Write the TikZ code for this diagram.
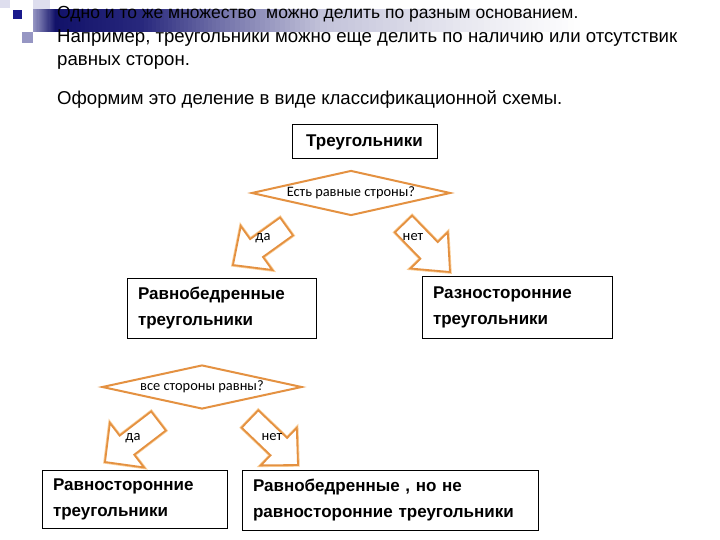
\documentclass[tikz,border=0pt]{standalone}
\usepackage{fontspec}
\setmainfont{Liberation Sans}
\newfontfamily\calib{Carlito}
\usetikzlibrary{calc,shapes.geometric}
\definecolor{arrorange}{RGB}{228,145,65}
\definecolor{arrglow}{RGB}{250,205,150}
\definecolor{lavlight}{RGB}{222,222,238}
\definecolor{lavmid}{RGB}{150,150,195}
\definecolor{navydark}{RGB}{25,25,140}
\definecolor{barA}{RGB}{18,18,105}
\definecolor{barB}{RGB}{40,40,125}
\definecolor{barC}{RGB}{115,115,170}
\definecolor{barD}{RGB}{195,195,218}
\definecolor{barE}{RGB}{232,232,240}
\tikzset{
  toptext/.style={anchor=base west, inner sep=0pt, font=\fontsize{18.6}{21}\selectfont},
  catbox/.style={draw=black, line width=1pt, fill=white, inner xsep=11pt, inner ysep=0pt,
    align=left, font=\bfseries\fontsize{17}{26}\selectfont},
  question/.style={diamond, draw=arrorange, line width=2pt, fill=white, aspect=4.6,
    inner sep=0.5pt, font=\calib\fontsize{14.4}{15}\selectfont},
  answer/.style={inner sep=0pt, font=\calib\fontsize{14.5}{15}\selectfont},
  blockarrow/.style={draw=arrorange, line width=1.8pt, fill=white, line join=miter,
    preaction={draw=arrglow, line width=3.4pt}}
}
\newcommand{\blockarr}[5]{% tail, tip, shaft half, head half, head fraction
  \draw[blockarrow]
    ($(#1)!#3!90:(#2)$) -- ($(#1)!#5!(#2)!#3!90:(#2)$) -- ($(#1)!#5!(#2)!#4!90:(#2)$)
    -- (#2) -- ($(#1)!#5!(#2)!#4!-90:(#2)$) -- ($(#1)!#5!(#2)!#3!-90:(#2)$)
    -- ($(#1)!#3!-90:(#2)$) -- cycle;}
\begin{document}
\begin{tikzpicture}[x=1pt,y=-1pt]
\useasboundingbox (0,0) rectangle (720,540);
\fill[white] (0,0) rectangle (720,540);
% decoration
\fill[lavlight] (0,0) rectangle (10,8);
\fill[lavlight] (33,0) rectangle (50,9);
\foreach \xa/\xb/\ca/\cb in {33/55/lavmid/barA, 55/140/barA/barB, 140/220/barB/barC,
    220/320/barC/barD, 320/460/barD/barE, 460/580/barE/white} {
  \foreach \k in {0,...,19} {
    \pgfmathsetmacro\xs{\xa+(\xb-\xa)*\k/20}
    \pgfmathsetmacro\xe{\xa+(\xb-\xa)*(\k+1)/20+0.4}
    \pgfmathtruncatemacro\pc{100-\k*5}
    \fill[\ca!\pc!\cb] (\xs,9) rectangle (\xe,32);
  }
}
\fill[lavmid] (22,32) rectangle (33,43);
\fill[navydark] (13,10) rectangle (22,19);
% top text
\node[toptext, font=\fontsize{17.5}{21}\selectfont] (l1) at (57,19) {Одно и то же множество\ \ можно делить по разным основанием.};
\node[toptext] (l2) at (57,43) {Например, треугольники можно еще делить по наличию или отсутствик};
\node[toptext] (l3) at (57,66) {равных сторон.};
\node[toptext] (l4) at (57,105) {Оформим это деление в виде классификационной схемы.};
% boxes
\node[catbox, align=center, minimum width=145pt, minimum height=34pt] (tri) at (364.5,142) {Треугольники};
\node[question, minimum width=199pt, minimum height=45pt] (q1) at (351,193) {Есть равные строны?};
\coordinate (a1s) at (286.5,226.5); \coordinate (a1e) at (233,265);
\coordinate (a2s) at (403.5,224);   \coordinate (a2e) at (450,272);
\blockarr{a1s}{a1e}{11pt}{27pt}{0.56}
\blockarr{a2s}{a2e}{12pt}{26pt}{0.55}
\node[answer] (da1) at (263,238) {да};
\node[answer] (net1) at (413,237) {нет};
\node[catbox, text width=167pt, minimum height=60pt] (iso) at (221.5,308) {Равнобедренные\\треугольники};
\node[catbox, text width=168pt, minimum height=62pt] (sca) at (517,307) {Разносторонние\\треугольники};
\node[question, minimum width=200pt, minimum height=44pt] (q2) at (202,387) {все стороны равны?};
\coordinate (a3s) at (158.5,421); \coordinate (a3e) at (105,462);
\coordinate (a4s) at (250,419);   \coordinate (a4e) at (298,465);
\blockarr{a3s}{a3e}{12pt}{28pt}{0.59}
\blockarr{a4s}{a4e}{12pt}{26pt}{0.6}
\node[answer] (da2) at (133,438) {да};
\node[answer] (net2) at (272,437) {нет};
\node[catbox, text width=163pt, minimum height=58pt] (equ) at (134.5,499) {Равносторонние\\треугольники};
\node[catbox, text width=274pt, minimum height=60pt] (isonq) at (390,500) {Равнобедренные , но не\\равносторонние треугольники};
\end{tikzpicture}
\end{document}
